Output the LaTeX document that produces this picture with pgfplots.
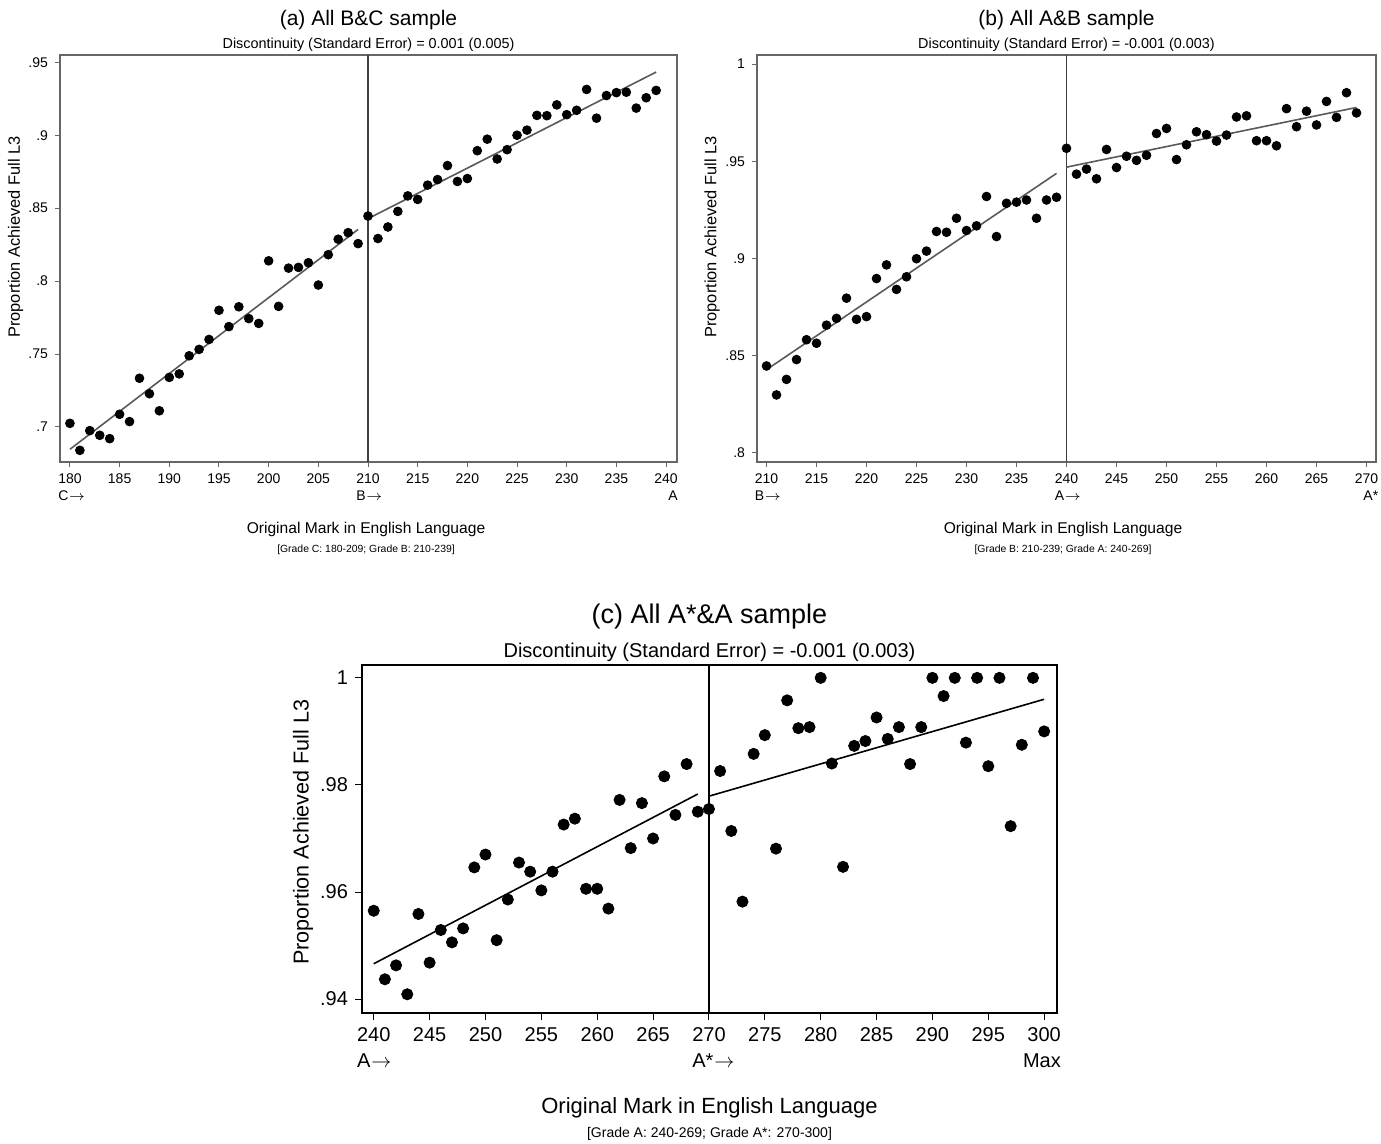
\documentclass[border=0pt]{standalone}
\usepackage{fontspec}
\setmainfont{Liberation Sans}
\usepackage{pgfplots}
\usepackage{pgfplotstable}
\pgfplotsset{compat=1.18}
\newcommand{\tkl}[3]{\ifx l#1\rlap{\raisebox{-1.12\baselineskip}[0pt][0pt]{#3}}#2\else#2\llap{\raisebox{-1.12\baselineskip}[0pt][0pt]{#3}}\fi}
\newcommand{\ar}{\kern0.05em$\rightarrow$}

\pgfplotstableread{
x y
180 .7025
181 .684
182 .6975
183 .6943
184 .692
185 .7087
186 .7037
187 .7334
188 .7228
189 .7111
190 .734
191 .7364
192 .7488
193 .7532
194 .760
195 .780
196 .7688
197 .7824
198 .7743
199 .771
200 .8139
201 .7827
202 .8089
203 .8094
204 .8126
205 .7973
206 .8181
207 .8287
208 .8332
209 .8257
210 .8446
211 .8292
212 .8371
213 .8478
214 .8584
215 .856
216 .8658
217 .8696
218 .8792
219 .8683
220 .8703
221 .8894
222 .8973
223 .8837
224 .8901
225 .900
226 .9035
227 .9136
228 .9134
229 .9208
230 .9141
231 .9171
232 .9314
233 .9117
234 .9272
235 .9292
236 .9295
237 .9186
238 .9257
239 .9307
}\dataA

\pgfplotstableread{
x y
210 .8447
211 .8298
212 .8378
213 .848
214 .8582
215 .8564
216 .8657
217 .8692
218 .8796
219 .8687
220 .8701
221 .8897
222 .8967
223 .8841
224 .8906
225 .8999
226 .9038
227 .9139
228 .9135
229 .9207
230 .9144
231 .9168
232 .9319
233 .9113
234 .9284
235 .929
236 .9301
237 .9207
238 .9301
239 .9315
240 .9567
241 .9434
242 .946
243 .941
244 .9561
245 .9468
246 .9526
247 .9505
248 .9531
249 .9643
250 .9669
251 .9509
252 .9585
253 .9652
254 .9637
255 .9604
256 .9635
257 .9728
258 .9734
259 .9606
260 .9606
261 .958
262 .9771
263 .9678
264 .9758
265 .9687
266 .9808
267 .9726
268 .9853
269 .9749
}\dataB

\pgfplotstableread{
x y
240 .9565
241 .9437
242 .9463
243 .9409
244 .9559
245 .9468
246 .9529
247 .9506
248 .9532
249 .9646
250 .967
251 .951
252 .9586
253 .9655
254 .9638
255 .9603
256 .9638
257 .9726
258 .9737
259 .9606
260 .9606
261 .9569
262 .9772
263 .9682
264 .9766
265 .970
266 .9816
267 .9744
268 .9839
269 .9750
270 .9755
271 .9826
272 .9714
273 .9582
274 .9858
275 .9893
276 .9681
277 .9958
278 .9906
279 .9908
280 1.0
281 .984
282 .9647
283 .9873
284 .9882
285 .9926
286 .9886
287 .9908
288 .9839
289 .9908
290 1.0
291 .9966
292 1.0
293 .9879
294 1.0
295 .9835
296 1.0
297 .9723
298 .9875
299 1.0
300 .990
}\dataC

\pgfplotsset{
  rd/.style={
    scale only axis,
    axis line style={black!60, line width=0.6pt},
    tick style={black!60, line width=0.5pt},
    tick align=outside,
    xtick pos=lower, ytick pos=left,
    major tick length=2.5pt,
    ticklabel style={font=\fontsize{7}{7.5}\selectfont},
    /pgf/number format/assume math mode=true,
    scaled y ticks=false,
  },
}

\begin{document}
\begin{tikzpicture}
\path[use as bounding box] (0,0) rectangle (690.5pt,-572pt);

% ---------------- (a)
\begin{axis}[rd,
  at={(30pt,-231pt)}, anchor=south west,
  width=308.5pt, height=203.5pt,
  xmin=179, xmax=241.1, ymin=.676, ymax=.955,
  xtick={180,185,...,240},
  xticklabels={{\tkl{l}{180}{C\ar}},185,190,195,200,205,{\tkl{l}{210}{B\ar}},215,220,225,230,235,{\tkl{r}{240}{A}}},
  ytick={.7,.75,.8,.85,.9,.95},
  yticklabels={.7,.75,.8,.85,.9,.95},
]
\addplot[black!75, line width=0.6pt] coordinates {(210,.676) (210,.955)};
\addplot[only marks, mark=*, mark size=2.2pt, black] table[x=x,y=y] {\dataA};
\addplot[black!65, line width=0.8pt] coordinates {(180,.6847) (209,.8354)};
\addplot[black!65, line width=0.8pt] coordinates {(210,.8428) (239,.9433)};
\end{axis}
\node[anchor=base, font=\fontsize{10.5}{12}\selectfont] at (184.25pt,-13pt) {(a) All B\&C sample};
\node[anchor=base, font=\fontsize{7.2}{8}\selectfont] at (184.25pt,-24.5pt) {Discontinuity (Standard Error) = 0.001 (0.005)};
\node[anchor=base, font=\fontsize{7.8}{8}\selectfont] at (183pt,-266.5pt) {Original Mark in English Language};
\node[anchor=base, font=\fontsize{5.2}{6}\selectfont] at (183pt,-276pt) {[Grade C: 180-209; Grade B: 210-239]};
\node[rotate=90, font=\fontsize{8.2}{9}\selectfont] at (7.8pt,-118.5pt) {Proportion Achieved Full L3};

% ---------------- (b)
\begin{axis}[rd,
  at={(378.5pt,-231pt)}, anchor=south west,
  width=309.5pt, height=203.5pt,
  xmin=209.05, xmax=270.95, ymin=.7953, ymax=1.0047,
  xtick={210,215,...,270},
  xticklabels={{\tkl{l}{210}{B\ar}},215,220,225,230,235,{\tkl{l}{240}{A\ar}},245,250,255,260,265,{\tkl{r}{270}{A*}}},
  ytick={.8,.85,.9,.95,1},
  yticklabels={.8,.85,.9,.95,1},
]
\addplot[black!75, line width=0.6pt] coordinates {(240,.7953) (240,1.0047)};
\addplot[only marks, mark=*, mark size=2.2pt, black] table[x=x,y=y] {\dataB};
\addplot[black!65, line width=0.8pt] coordinates {(210,.8428) (239,.9438)};
\addplot[black!65, line width=0.8pt] coordinates {(240,.947) (269,.9777)};
\end{axis}
\node[anchor=base, font=\fontsize{10.5}{12}\selectfont] at (533.25pt,-13pt) {(b) All A\&B sample};
\node[anchor=base, font=\fontsize{7.2}{8}\selectfont] at (533.25pt,-24.5pt) {Discontinuity (Standard Error) = -0.001 (0.003)};
\node[anchor=base, font=\fontsize{7.8}{8}\selectfont] at (531.5pt,-266.5pt) {Original Mark in English Language};
\node[anchor=base, font=\fontsize{5.2}{6}\selectfont] at (531.5pt,-276pt) {[Grade B: 210-239; Grade A: 240-269]};
\node[rotate=90, font=\fontsize{8.2}{9}\selectfont] at (356pt,-118.5pt) {Proportion Achieved Full L3};

% ---------------- (c)
\begin{axis}[rd,
  at={(181pt,-506.5pt)}, anchor=south west,
  width=347.5pt, height=174pt,
  axis line style={black, line width=0.6pt},
  tick style={black, line width=0.5pt},
  major tick length=3.5pt,
  ticklabel style={font=\fontsize{10}{12}\selectfont},
  xmin=238.95, xmax=301.15, ymin=.9374, ymax=1.0024,
  xtick={240,245,...,300},
  xticklabels={{\tkl{l}{240}{A\ar}},245,250,255,260,265,{\tkl{l}{270}{A*\ar}},275,280,285,290,295,{\tkl{r}{300}{Max}}},
  ytick={.94,.96,.98,1},
  yticklabels={.94,.96,.98,1},
]
\addplot[black, line width=0.7pt] coordinates {(270,.9374) (270,1.0024)};
\addplot[only marks, mark=*, mark size=2.8pt, black] table[x=x,y=y] {\dataC};
\addplot[black, line width=0.8pt] coordinates {(240,.9466) (269,.9783)};
\addplot[black, line width=0.8pt] coordinates {(270,.9779) (300,.996)};
\end{axis}
\node[anchor=base, font=\fontsize{13.5}{15}\selectfont] at (354.75pt,-311.5pt) {(c) All A*\&A sample};
\node[anchor=base, font=\fontsize{10}{12}\selectfont] at (354.75pt,-328.5pt) {Discontinuity (Standard Error) = -0.001 (0.003)};
\node[anchor=base, font=\fontsize{11}{12}\selectfont] at (354.75pt,-556.5pt) {Original Mark in English Language};
\node[anchor=base, font=\fontsize{7}{8}\selectfont] at (354.75pt,-568.5pt) {[Grade A: 240-269; Grade A*: 270-300]};
\node[rotate=90, font=\fontsize{10.8}{12}\selectfont] at (151.5pt,-416pt) {Proportion Achieved Full L3};
\end{tikzpicture}
\end{document}
